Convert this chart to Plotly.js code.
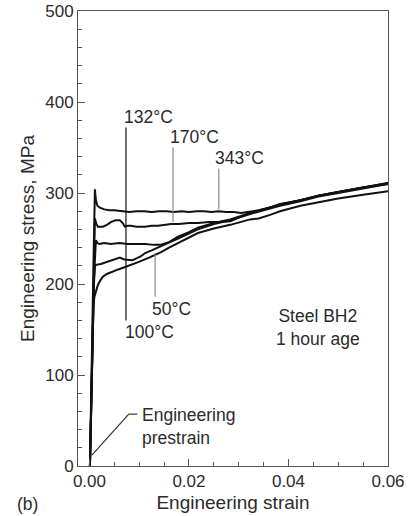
<!DOCTYPE html>
<html>
<head>
<meta charset="utf-8">
<script src="https://cdn.plot.ly/plotly-3.0.1.min.js"></script>
<style>html,body{margin:0;padding:0;background:#fff}#chart{width:415px;height:516px}</style>
</head>
<body>
<div id="chart"></div>
<script>
// Curve 1: highest yield plateau (~280 MPa)
const strain1 = [0.0001, 0.0004, 0.0008, 0.0011, 0.0013, 0.0016, 0.0021, 0.003, 0.004, 0.005, 0.0065, 0.008, 0.0095, 0.011, 0.0125, 0.014, 0.0155, 0.017, 0.0185, 0.02, 0.0215, 0.023, 0.0245, 0.026, 0.0275, 0.029, 0.0305, 0.032, 0.034, 0.0363, 0.0383, 0.0424, 0.046, 0.05, 0.055, 0.0601];
const stress1 = [0, 110, 220, 304, 292, 286, 284, 282, 281, 281, 280, 279, 280, 280, 279, 280, 280, 279, 280, 279, 280, 280, 279, 280, 279, 279, 278, 279, 281, 284, 288, 292, 297, 301, 306, 311];
// Curve 2: plateau ~266 MPa
const strain2 = [0.0001, 0.0005, 0.0009, 0.0011, 0.0014, 0.0017, 0.0027, 0.0035, 0.0043, 0.0052, 0.0061, 0.0067, 0.0071, 0.0077, 0.0083, 0.0095, 0.0112, 0.0125, 0.0138, 0.015, 0.0164, 0.018, 0.02, 0.0218, 0.024, 0.026, 0.0283, 0.03, 0.0323, 0.0363, 0.0383, 0.0424, 0.046, 0.05, 0.055, 0.0601];
const stress2 = [0, 120, 230, 272, 266, 263, 263, 265, 268, 270, 270, 267, 263, 264, 264, 263, 263, 264, 264, 265, 266, 266, 267, 267, 268, 268, 269, 273, 278, 284, 287, 292, 297, 301, 306, 311];
// Curve 3: plateau ~244 MPa
const strain3 = [0.0001, 0.0005, 0.0009, 0.0013, 0.0016, 0.002, 0.003, 0.0043, 0.006, 0.0077, 0.009, 0.0112, 0.013, 0.0142, 0.016, 0.0178, 0.02, 0.0218, 0.025, 0.0283, 0.0323, 0.0363, 0.0383, 0.0424, 0.046, 0.05, 0.055, 0.0601];
const stress3 = [0, 110, 205, 248, 245, 244, 245, 244, 245, 244, 244, 244, 243, 243, 246, 252, 257, 262, 267, 271, 278, 284, 287, 292, 297, 301, 306, 310];
// Curve 4: plateau ~225 MPa
const strain4 = [0.0001, 0.0005, 0.0009, 0.0011, 0.0013, 0.0023, 0.0035, 0.0043, 0.0052, 0.0061, 0.007, 0.0086, 0.0102, 0.0112, 0.0125, 0.0142, 0.0152, 0.0178, 0.0218, 0.025, 0.0283, 0.0323, 0.0363, 0.0383, 0.0424, 0.046, 0.05, 0.055, 0.0601];
const stress4 = [0, 120, 200, 219, 221, 222, 224, 226, 227, 229, 227, 226, 230, 234, 237, 241, 244, 250, 260, 266, 270, 277, 283, 286, 291, 296, 300, 305, 310];
// Curve 5: continuous (rounded) yielding
const strain5 = [0.0001, 0.0004, 0.0006, 0.0008, 0.001, 0.0014, 0.0017, 0.0022, 0.0027, 0.0035, 0.0043, 0.0058, 0.0073, 0.0085, 0.0098, 0.012, 0.0144, 0.016, 0.0178, 0.02, 0.0218, 0.025, 0.0283, 0.0323, 0.034, 0.0363, 0.0383, 0.0424, 0.046, 0.05, 0.055, 0.0601];
const stress5 = [0, 95, 145, 176, 186, 193, 199, 204, 208, 211, 213, 216, 219, 221, 224, 229, 235, 240, 245, 251, 256, 261, 265, 271, 272, 276, 280, 286, 290, 294, 298, 302];

const xTickVals = [0, 0.02, 0.04, 0.06];
const xTickText = ['0.00', '0.02', '0.04', '0.06'];
const yTickVals = [0, 100, 200, 300, 400, 500];
const yTickText = ['0', '100', '200', '300', '400', '500'];

const FONT = 'Liberation Sans, Arial, sans-serif';
const TXT = '#2b2b2b';
const AX = '#555555';

const curves = [[strain1, stress1], [strain2, stress2], [strain3, stress3], [strain4, stress4], [strain5, stress5]];
const traces = curves.map(c => ({
  x: c[0], y: c[1], type: 'scatter', mode: 'lines',
  line: {color: '#111111', width: 2}, hoverinfo: 'skip', showlegend: false
}));

function lbl(text, x, y, anchor) {
  return {text: text, x: x, y: y, xref: 'x', yref: 'y', showarrow: false,
    xanchor: anchor || 'left', yanchor: 'middle', font: {family: FONT, size: 17.5, color: TXT}};
}
function seg(x0, y0, x1, y1, color) {
  return {type: 'line', xref: 'x', yref: 'y', x0: x0, y0: y0, x1: x1, y1: y1,
    line: {color: color, width: 1.2}};
}

const layout = {
  width: 415, height: 516,
  margin: {l: 78, r: 27, t: 11, b: 50},
  paper_bgcolor: '#ffffff', plot_bgcolor: '#ffffff',
  font: {family: FONT, color: TXT, size: 17},
  xaxis: {
    range: [-0.0023, 0.06], tickvals: xTickVals, ticktext: xTickText,
    ticks: 'inside', ticklen: 7, tickcolor: AX, tickwidth: 1,
    minor: {dtick: 0.005, tick0: 0, ticks: 'inside', ticklen: 4, tickcolor: AX, tickwidth: 1, showgrid: false},
    showline: true, linecolor: AX, linewidth: 1, mirror: true,
    showgrid: false, zeroline: false,
    tickfont: {family: FONT, size: 17, color: TXT},
    title: {text: 'Engineering strain', font: {family: FONT, size: 19, color: TXT}, standoff: 5}
  },
  yaxis: {
    range: [0, 500], tickvals: yTickVals, ticktext: yTickText,
    ticks: 'inside', ticklen: 7, tickcolor: AX, tickwidth: 1,
    minor: {dtick: 20, tick0: 0, ticks: 'inside', ticklen: 4, tickcolor: AX, tickwidth: 1, showgrid: false},
    showline: true, linecolor: AX, linewidth: 1, mirror: true,
    showgrid: false, zeroline: false,
    tickfont: {family: FONT, size: 17, color: TXT},
    title: {text: 'Engineering stress, MPa', font: {family: FONT, size: 19, color: TXT}, standoff: 5}
  },
  shapes: [
    seg(0.00734, 372, 0.00734, 245, '#111'),
    seg(0.00734, 160, 0.00734, 245, '#111'),
    seg(0.0168, 350, 0.0168, 268, '#8a8a8a'),
    seg(0.0260, 327, 0.0260, 282, '#8a8a8a'),
    seg(0.0132, 234, 0.0132, 186, '#8a8a8a'),
    seg(0.0096, 57, 0.0079, 57, '#333'),
    seg(0.0079, 57, 0.0005, 12, '#333')
  ],
  annotations: [
    lbl('132°C', 0.0065, 384),
    lbl('170°C', 0.0158, 361),
    lbl('343°C', 0.0248, 339),
    lbl('50°C', 0.0122, 172),
    lbl('100°C', 0.0067, 147),
    {text: 'Steel BH2<br>1 hour age', x: 0.046, y: 152, xref: 'x', yref: 'y', showarrow: false,
      xanchor: 'center', yanchor: 'middle', align: 'center', font: {family: FONT, size: 17.5, color: TXT}},
    {text: 'Engineering<br>prestrain', x: 0.0102, y: 43, xref: 'x', yref: 'y', showarrow: false,
      xanchor: 'left', yanchor: 'middle', align: 'left', font: {family: FONT, size: 17.5, color: TXT}},
    {text: '(b)', x: -0.1645, y: -0.0835, xref: 'paper', yref: 'paper', showarrow: false,
      xanchor: 'center', yanchor: 'middle', font: {family: FONT, size: 17.5, color: TXT}}
  ]
};

Plotly.newPlot('chart', traces, layout, {displayModeBar: false, staticPlot: true});
</script>
</body>
</html>
